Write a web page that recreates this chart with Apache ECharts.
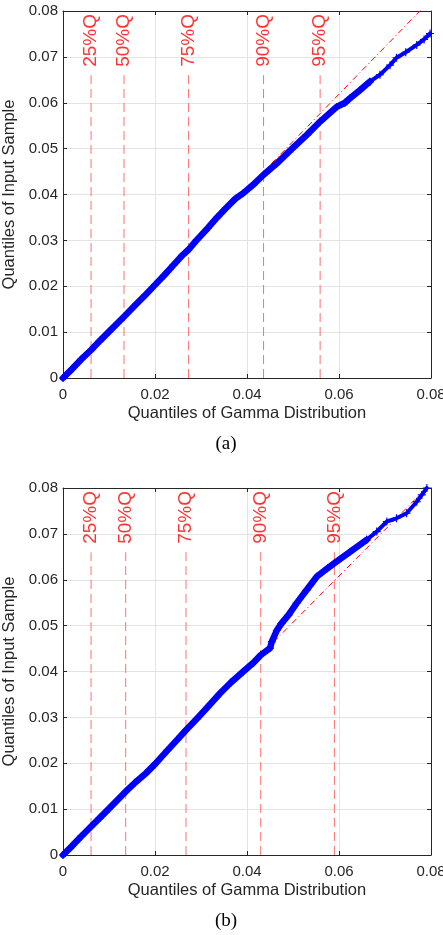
<!DOCTYPE html>
<html>
<head>
<meta charset="utf-8">
<script src="https://cdn.jsdelivr.net/npm/echarts@6/dist/echarts.min.js"></script>
<style>
  html, body { margin: 0; padding: 0; background: #fff; }
  #chart { width: 443px; height: 935px; }
</style>
</head>
<body>
<div id="chart"></div>
<script>
  // 刻度标签
  const xTicks = ['0', '0.02', '0.04', '0.06', '0.08']
  const yTicks = ['0', '0.01', '0.02', '0.03', '0.04', '0.05', '0.06', '0.07', '0.08']
  const xStep = 0.02
  const yStep = 0.01

  // 分位线
  const quantileNames = ['25%Q', '50%Q', '75%Q', '90%Q', '95%Q']
  const quantilesA = [0.0061, 0.01326, 0.0273, 0.0436, 0.0559]
  const quantilesB = [0.0061, 0.01363, 0.02674, 0.04298, 0.059]

  // (a) 样本分位数
  const gammaA = [0, 0.002, 0.004, 0.0061, 0.008, 0.010, 0.0133, 0.016, 0.018, 0.020, 0.022, 0.024, 0.026,
    0.0272, 0.029, 0.0315, 0.0335, 0.0355, 0.0375, 0.0392, 0.0412, 0.0436, 0.0465, 0.0498, 0.053, 0.0559,
    0.0595, 0.0613, 0.0624, 0.0646, 0.0667, 0.0689, 0.0711, 0.0725, 0.0745, 0.0769, 0.0785, 0.0798]
  const sampleA = [0, 0.0020, 0.0041, 0.0061, 0.0081, 0.0101, 0.0134, 0.0162, 0.0182, 0.0203, 0.0224, 0.0246, 0.0268,
    0.0279, 0.0300, 0.0327, 0.0350, 0.0371, 0.0391, 0.0403, 0.0420, 0.0443, 0.0468, 0.0500, 0.0530, 0.0559,
    0.0591, 0.0600, 0.0610, 0.0628, 0.0646, 0.0661, 0.0682, 0.0698, 0.0710, 0.0726, 0.0738, 0.0751]

  // (b) 样本分位数
  const gammaB = [0, 0.002, 0.004, 0.0061, 0.008, 0.010, 0.0136, 0.0157, 0.018, 0.020, 0.0227, 0.0248, 0.0267,
    0.029, 0.0315, 0.0341, 0.0365, 0.0392, 0.0415, 0.0430, 0.0450, 0.0454, 0.0465, 0.0475, 0.0490, 0.0508,
    0.0530, 0.0552, 0.0575, 0.0590, 0.0624, 0.0660, 0.0682, 0.0704, 0.0725, 0.0747, 0.0769, 0.0780, 0.0791]
  const sampleB = [0, 0.0020, 0.0041, 0.0062, 0.0081, 0.0101, 0.0138, 0.0158, 0.0178, 0.0198, 0.0228, 0.0251, 0.0272,
    0.0296, 0.0323, 0.0352, 0.0376, 0.0400, 0.0420, 0.0436, 0.0451, 0.0465, 0.0490, 0.0505, 0.0523, 0.0549,
    0.0578, 0.0607, 0.0625, 0.0636, 0.0661, 0.0687, 0.0705, 0.0727, 0.0734, 0.0745, 0.0770, 0.0785, 0.0800]

  // 参考线（点划线）
  const refLineA = [[0, 0], [0.0798, 0.0823]]
  const refLineB = [[0, 0.0002], [0.0791, 0.0801]]

  const qLineTop = 0.066
  const qLabelY = 0.0736
  // 尾部稀疏点从此横坐标开始
  const tailStart = 0.066

  const axisColor = '#262626'
  const gridColor = '#e3e3e3'
  const sans = '"Liberation Sans", Arial, sans-serif'
  const plusSymbol = 'path://M3,0h1v7h-1zM0,3h7v1h-7z'

  const chartDom = echarts.init(document.getElementById('chart'))

  const tickStyle = { show: true, inside: true, length: 4, lineStyle: { color: axisColor, width: 1 } }
  const lineStyle = { show: true, onZero: false, lineStyle: { color: axisColor, width: 1 } }

  /** 一个面板的四条坐标轴 */
  const buildAxes = (g) => {
    const x = [
      {
        gridIndex: g, type: 'value', min: 0, max: 0.08, interval: xStep, position: 'bottom',
        name: 'Quantiles of Gamma Distribution', nameLocation: 'middle', nameGap: 27,
        nameTextStyle: { color: axisColor, fontSize: 16.5, fontFamily: sans },
        axisLine: lineStyle, axisTick: tickStyle,
        axisLabel: {
          margin: 9, color: axisColor, fontSize: 15, fontFamily: sans,
          formatter: (v) => xTicks[Math.round(v / xStep)]
        },
        splitLine: { show: true, lineStyle: { color: gridColor, width: 1 } }
      },
      {
        gridIndex: g, type: 'value', min: 0, max: 0.08, interval: xStep, position: 'top',
        axisLine: lineStyle, axisTick: tickStyle, axisLabel: { show: false }, splitLine: { show: false }
      }
    ]
    const y = [
      {
        gridIndex: g, type: 'value', min: 0, max: 0.08, interval: yStep, position: 'left',
        name: 'Quantiles of Input Sample', nameLocation: 'middle', nameGap: 38,
        nameTextStyle: { color: axisColor, fontSize: 16.5, fontFamily: sans },
        axisLine: lineStyle, axisTick: tickStyle,
        axisLabel: {
          margin: 5, color: axisColor, fontSize: 15, fontFamily: sans,
          formatter: (v) => yTicks[Math.round(v / yStep)]
        },
        splitLine: { show: true, lineStyle: { color: gridColor, width: 1 } }
      },
      {
        gridIndex: g, type: 'value', min: 0, max: 0.08, interval: yStep, position: 'right',
        axisLine: lineStyle, axisTick: tickStyle, axisLabel: { show: false }, splitLine: { show: false }
      }
    ]
    return { x, y }
  }

  /** 一个面板的全部系列 */
  const buildSeries = (g, xs, ys, qs, ref) => {
    const xi = g * 2
    const yi = g * 2
    const pts = xs.map((v, i) => [v, ys[i]])
    const cut = xs.findIndex((v) => v >= tailStart)
    const list = []
    qs.forEach((q) => {
      list.push({
        type: 'line', xAxisIndex: xi, yAxisIndex: yi, silent: true,
        data: [[q, 0], [q, qLineTop]],
        symbol: 'none',
        lineStyle: { color: '#ff7070', width: 1, type: [9, 5] },
        z: 2
      })
    })
    list.push({
      type: 'scatter', xAxisIndex: xi, yAxisIndex: yi, silent: true,
      data: qs.map((q) => [q, qLabelY]),
      symbolSize: 0,
      label: {
        show: true, position: 'inside', rotate: 90,
        formatter: (p) => quantileNames[p.dataIndex],
        color: '#ff0000', fontSize: 19, fontFamily: sans
      },
      z: 3
    })
    list.push({
      type: 'line', xAxisIndex: xi, yAxisIndex: yi, silent: true,
      data: ref, symbol: 'none', clip: true,
      lineStyle: { color: '#ff0000', width: 1, type: [6, 3, 1, 3] },
      z: 3
    })
    // 主体：密集的 + 号连成粗带
    list.push({
      type: 'line', xAxisIndex: xi, yAxisIndex: yi, silent: true,
      data: pts.slice(0, cut + 1),
      symbol: plusSymbol, symbolSize: 8, showSymbol: true, showAllSymbol: true,
      itemStyle: { color: '#0000ff', borderWidth: 0 },
      lineStyle: { color: '#0000ff', width: 6.5, join: 'round', cap: 'round' },
      clip: false,
      z: 5
    })
    // 尾部：稀疏的 + 号
    list.push({
      type: 'line', xAxisIndex: xi, yAxisIndex: yi, silent: true,
      data: pts.slice(cut),
      symbol: plusSymbol, symbolSize: 8, showSymbol: true, showAllSymbol: true,
      itemStyle: { color: '#0000ff', borderWidth: 0 },
      lineStyle: { color: '#0000ff', width: 4, join: 'round', cap: 'round' },
      clip: false,
      z: 5
    })
    return list
  }

  const axesA = buildAxes(0)
  const axesB = buildAxes(1)

  chartDom.setOption({
    animation: false,
    grid: [
      { left: 63, top: 11, width: 368, height: 367, outerBoundsMode: 'none', containLabel: false },
      { left: 63, top: 488, width: 368, height: 367, outerBoundsMode: 'none', containLabel: false }
    ],
    xAxis: [...axesA.x, ...axesB.x],
    yAxis: [...axesA.y, ...axesB.y],
    series: [
      ...buildSeries(0, gammaA, sampleA, quantilesA, refLineA),
      ...buildSeries(1, gammaB, sampleB, quantilesB, refLineB)
    ],
    graphic: [
      {
        type: 'text', x: 226, y: 444,
        style: { text: '(a)', font: '19px "Liberation Serif", "Times New Roman", serif', align: 'center', verticalAlign: 'middle', fill: '#000' }
      },
      {
        type: 'text', x: 226, y: 921,
        style: { text: '(b)', font: '19px "Liberation Serif", "Times New Roman", serif', align: 'center', verticalAlign: 'middle', fill: '#000' }
      }
    ]
  })
</script>
</body>
</html>
